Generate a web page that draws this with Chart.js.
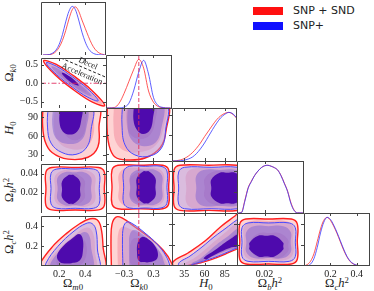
<!DOCTYPE html>
<html>
<head>
<meta charset="utf-8">
<script src="https://cdn.jsdelivr.net/npm/chart.js@4.4.1/dist/chart.umd.min.js"></script>
<style>
  html, body { margin: 0; padding: 0; background: #fff; }
  #wrap { position: relative; width: 374px; height: 291px; overflow: hidden; }
  #wrap canvas { position: absolute; }
  .ttl { position: absolute; font-family: "Liberation Serif", "DejaVu Serif", serif; font-size: 12.5px; color: #222; white-space: nowrap; line-height: 1; transform: translate(-50%, -50%); }
  .ttl.v { transform: translate(-50%, -50%) rotate(-90deg); }
  .ttl sub, .ttl sup { font-size: 70%; position: relative; vertical-align: baseline; line-height: 0; }
  .ttl sub { top: 0.3em; }
  .ttl sup { top: -0.45em; }
  .lg { position: absolute; font-family: "DejaVu Sans", sans-serif; font-size: 11px; color: #222; line-height: 1; }
  .sw { position: absolute; width: 30px; height: 8px; }
</style>
</head>
<body>
<div id="wrap">
  <div class="sw" style="left:253px;top:7px;background:#ff1010"></div>
  <div class="lg" style="left:293px;top:5px">SNP + SND</div>
  <div class="sw" style="left:253px;top:22px;background:#1010ff"></div>
  <div class="lg" style="left:293px;top:20px">SNP+</div>

  <div class="ttl" style="left:73px;top:283px">Ω<sub><i>m</i>0</sub></div>
  <div class="ttl" style="left:139px;top:283px">Ω<sub><i>k</i>0</sub></div>
  <div class="ttl" style="left:206px;top:283px"><i>H</i><sub>0</sub></div>
  <div class="ttl" style="left:270px;top:283px">Ω<sub><i>b</i></sub><i>h</i><sup>2</sup></div>
  <div class="ttl" style="left:337px;top:283px">Ω<sub><i>c</i></sub><i>h</i><sup>2</sup></div>

  <div class="ttl v" style="left:9px;top:73px">Ω<sub><i>k</i>0</sub></div>
  <div class="ttl v" style="left:9px;top:128px"><i>H</i><sub>0</sub></div>
  <div class="ttl v" style="left:9px;top:190px">Ω<sub><i>b</i></sub><i>h</i><sup>2</sup></div>
  <div class="ttl v" style="left:9px;top:242px">Ω<sub><i>c</i></sub><i>h</i><sup>2</sup></div>
</div>
<script>
// ---- axis ranges and ticks ----
const om_range = [0.06, 0.56];
const ok_range = [-0.67, 0.68];
const h0_range = [20, 100];
const ob_range = [-0.001, 0.05];
const oc_range = [0, 0.5];
const pdf_range = [0, 1.09];

const om_xticks = [0.2, 0.4], om_xlabels = ['0.2', '0.4'];
const ok_xticks = [-0.3, 0.3], ok_xlabels = ['\u22120.3', '0.3'];
const ok_yticks = [-0.5, 0, 0.5], ok_ylabels = ['\u22120.5', '0.0', '0.5'];
const h0_xticks = [35, 60, 85], h0_xlabels = ['35', '60', '85'];
const h0_yticks = [30, 60, 90], h0_ylabels = ['30', '60', '90'];
const ob_xticks = [0.02], ob_xlabels = ['0.02'];
const ob_yticks = [0.02, 0.04], ob_ylabels = ['0.02', '0.04'];
const oc_xticks = [0.2, 0.4], oc_xlabels = ['0.2', '0.4'];
const oc_yticks = [0.2, 0.4], oc_ylabels = ['0.2', '0.4'];

// ---- 1D marginals (normalised) ----
const om_grid = [0.075, 0.1, 0.125, 0.15, 0.175, 0.2, 0.225, 0.25, 0.275, 0.3, 0.325, 0.35, 0.375, 0.4, 0.425, 0.45, 0.475, 0.5, 0.525, 0.55];
const om_snd = [0, 0.002, 0.008, 0.025, 0.07, 0.16, 0.3, 0.5, 0.74, 0.93, 0.99, 0.9, 0.72, 0.55, 0.38, 0.23, 0.12, 0.055, 0.02, 0.006];
const om_snp = [0, 0.003, 0.01, 0.04, 0.1, 0.22, 0.42, 0.68, 0.9, 1.0, 0.93, 0.72, 0.47, 0.27, 0.13, 0.055, 0.02, 0.006, 0.002, 0];

const ok_grid = [-0.65, -0.6, -0.5, -0.4, -0.3, -0.2, -0.1, 0, 0.1, 0.2, 0.3, 0.4, 0.5, 0.6, 0.65];
const ok_snd = [0, 0.002, 0.01, 0.1, 0.3, 0.55, 0.8, 1.0, 0.82, 0.35, 0.12, 0.03, 0.005, 0, 0];
const ok_snp = [0, 0, 0, 0.003, 0.02, 0.1, 0.37, 0.74, 0.98, 0.7, 0.22, 0.05, 0.01, 0, 0];

const h0_grid = [20, 25, 30, 35, 40, 45, 50, 55, 60, 65, 70, 75, 80, 85, 90, 95, 100];
const h0_snd = [0, 0.005, 0.02, 0.05, 0.1, 0.17, 0.26, 0.37, 0.5, 0.62, 0.74, 0.85, 0.93, 0.98, 1.0, 0.96, 0.87];
const h0_snp = [0, 0.001, 0.005, 0.015, 0.04, 0.08, 0.15, 0.25, 0.37, 0.51, 0.65, 0.78, 0.89, 0.96, 1.0, 0.97, 0.88];

const ob_grid = [0, 0.0025, 0.005, 0.0075, 0.01, 0.0125, 0.015, 0.0175, 0.02, 0.0225, 0.025, 0.0275, 0.03, 0.0325, 0.035, 0.0375, 0.04, 0.0425, 0.045, 0.05];
const ob_snd = [0, 0.015, 0.27, 0.53, 0.67, 0.79, 0.88, 0.95, 0.99, 1.0, 0.98, 0.95, 0.9, 0.79, 0.63, 0.46, 0.22, 0.06, 0.005, 0];
const ob_snp = [0, 0.01, 0.25, 0.52, 0.66, 0.79, 0.88, 0.95, 0.99, 1.0, 0.98, 0.95, 0.9, 0.78, 0.62, 0.45, 0.2, 0.05, 0.003, 0];

const oc_grid = [0, 0.025, 0.05, 0.075, 0.1, 0.125, 0.15, 0.175, 0.2, 0.225, 0.25, 0.275, 0.3, 0.325, 0.35, 0.375, 0.4, 0.425, 0.45, 0.5];
const oc_snd = [0, 0.03, 0.1, 0.25, 0.5, 0.76, 0.94, 1.0, 0.94, 0.82, 0.67, 0.5, 0.33, 0.19, 0.09, 0.04, 0.015, 0.006, 0.002, 0];
const oc_snp = [0, 0.005, 0.04, 0.15, 0.38, 0.68, 0.9, 1.0, 0.96, 0.84, 0.69, 0.52, 0.35, 0.2, 0.1, 0.045, 0.017, 0.007, 0.002, 0];

// ---- 2D contours [outer, middle, inner], outlines in data units ----
// Omega_k0 vs Omega_m0
const okom_snd = [
  [[0.315, 0.19], [0.456, -0.208], [0.55, -0.60], [0.456, -0.512], [0.315, -0.19], [0.174, 0.208], [0.08, 0.60], [0.174, 0.512]],
  [[0.315, 0.15], [0.444, -0.21], [0.53, -0.549], [0.444, -0.45], [0.315, -0.15], [0.186, 0.209], [0.10, 0.549], [0.186, 0.449]],
  [[0.30, 0.118], [0.366, -0.066], [0.41, -0.243], [0.366, -0.194], [0.30, -0.042], [0.234, 0.143], [0.19, 0.319], [0.234, 0.271]]
];
const okom_snp = [
  [[0.30, 0.178], [0.42, -0.156], [0.50, -0.473], [0.42, -0.38], [0.30, -0.102], [0.18, 0.232], [0.10, 0.549], [0.18, 0.456]],
  [[0.295, 0.156], [0.388, -0.103], [0.45, -0.345], [0.388, -0.271], [0.295, -0.054], [0.202, 0.204], [0.14, 0.447], [0.202, 0.372]],
  [[0.285, 0.171], [0.324, 0.059], [0.35, -0.06], [0.324, -0.045], [0.285, 0.041], [0.246, 0.154], [0.22, 0.276], [0.246, 0.258]]
];
const decel_line = [[0.213, 0.68], [0.56, 0.16]];
const decel_text = [0.421, 0.527];
const accel_text = [0.375, 0.247];

// H0 vs Omega_m0
const h0om_snd = [
  [[0.075, 106], [0.072, 78.9], [0.091, 51.7], [0.145, 33.6], [0.268, 23], [0.421, 26], [0.498, 42.7], [0.506, 74.3], [0.498, 106]],
  [[0.168, 106], [0.16, 74.3], [0.191, 51.7], [0.283, 39.6], [0.398, 41.2], [0.46, 59.3], [0.468, 89.4], [0.468, 106]],
  [[0.221, 106], [0.214, 78.9], [0.252, 60.8], [0.321, 53.2], [0.383, 60.8], [0.406, 81.9], [0.406, 106]]
];
const h0om_snp = [
  [[0.114, 106], [0.11, 74.3], [0.137, 48.7], [0.221, 33.6], [0.329, 30.6], [0.414, 42.7], [0.445, 69.8], [0.445, 106]],
  [[0.152, 106], [0.148, 74.3], [0.183, 54.7], [0.268, 47.2], [0.36, 51.7], [0.406, 69.8], [0.406, 106]],
  [[0.206, 106], [0.202, 81.9], [0.229, 66.8], [0.283, 62.3], [0.337, 66.8], [0.368, 83.4], [0.368, 106]]
];

// H0 vs Omega_k0
const h0ok_snd = [
  [[-0.639, 106], [-0.65, 74.3], [-0.609, 44.2], [-0.486, 26], [-0.22, 21.5], [0.128, 24.5], [0.434, 39.6], [0.56, 66.8], [0.56, 106]],
  [[-0.506, 106], [-0.517, 74.3], [-0.466, 48.7], [-0.281, 35.1], [0.025, 33.6], [0.332, 42.7], [0.496, 66.8], [0.516, 106]],
  [[-0.241, 106], [-0.251, 78.9], [-0.179, 60.8], [0.025, 53.2], [0.23, 59.3], [0.332, 78.9], [0.332, 106]]
];
const h0ok_snp = [
  [[-0.333, 106], [-0.343, 74.3], [-0.281, 44.2], [-0.077, 29.1], [0.23, 27.6], [0.465, 39.6], [0.55, 66.8], [0.55, 106]],
  [[-0.22, 106], [-0.23, 74.3], [-0.159, 53.2], [0.066, 42.7], [0.332, 47.2], [0.455, 66.8], [0.475, 106]],
  [[-0.097, 106], [-0.108, 81.9], [-0.036, 66.8], [0.087, 60.8], [0.23, 66.8], [0.291, 84.9], [0.291, 106]]
];

// Omega_b h^2 vs others: extents [xmin, xmax, ymin, ymax]
const obom_snd = [[0.098, 0.547, 0.0022, 0.0464], [0.168, 0.475, 0.0059, 0.0431], [0.225, 0.395, 0.0075, 0.0395]];
const obom_snp = [[0.137, 0.508, 0.0039, 0.0448], [0.188, 0.445, 0.0071, 0.0415], [0.222, 0.36, 0.0085, 0.0385]];
const obok_snd = [[-0.547, 0.612, 0.0032, 0.0458], [-0.404, 0.51, 0.0059, 0.0431], [-0.179, 0.271, 0.0085, 0.0395]];
const obok_snp = [[-0.308, 0.577, 0.0039, 0.0448], [-0.173, 0.475, 0.0071, 0.0415], [-0.04, 0.34, 0.0085, 0.0399]];
const obh0_snd = [[22.5, 108, 0.0016, 0.0458], [37.6, 108, 0.0034, 0.0426], [60.2, 108, 0.0075, 0.0395]];
const obh0_snp = [[28.2, 108, 0.0032, 0.0438], [49.9, 108, 0.0059, 0.0412], [68.4, 108, 0.0085, 0.0385]];

// Omega_c h^2 vs Omega_m0
const ocom_snd = [
  [[0.05, -0.04], [0.055, 0.03], [0.145, 0.189], [0.252, 0.321], [0.36, 0.425], [0.437, 0.472], [0.491, 0.462], [0.521, 0.387], [0.537, 0.198], [0.537, -0.04]],
  [[0.114, -0.04], [0.118, 0.038], [0.206, 0.179], [0.314, 0.302], [0.391, 0.377], [0.437, 0.377], [0.468, 0.292], [0.475, 0.151], [0.475, -0.04]],
  [[0.27, -0.01], [0.191, 0.0], [0.183, 0.075], [0.237, 0.17], [0.314, 0.255], [0.368, 0.283], [0.406, 0.226], [0.406, 0.094], [0.36, 0.009]]
];
const ocom_snp = [
  [[0.098, -0.04], [0.098, 0.028], [0.191, 0.198], [0.314, 0.349], [0.406, 0.425], [0.452, 0.425], [0.483, 0.359], [0.494, 0.17], [0.498, -0.04]],
  [[0.129, -0.04], [0.137, 0.038], [0.221, 0.17], [0.329, 0.283], [0.391, 0.34], [0.429, 0.311], [0.445, 0.198], [0.448, -0.04]],
  [[0.283, 0.024], [0.206, 0.038], [0.183, 0.104], [0.229, 0.198], [0.306, 0.283], [0.352, 0.321], [0.379, 0.283], [0.383, 0.16], [0.36, 0.057]]
];

// Omega_c h^2 vs Omega_k0
const ocok_snd = [
  [[-0.558, -0.04], [-0.568, 0.245], [-0.547, 0.396], [-0.466, 0.462], [-0.343, 0.453], [-0.077, 0.368], [0.23, 0.264], [0.496, 0.151], [0.66, 0.038], [0.68, -0.04]],
  [[-0.425, -0.04], [-0.435, 0.198], [-0.414, 0.321], [-0.343, 0.368], [-0.179, 0.349], [0.066, 0.283], [0.332, 0.179], [0.537, 0.066], [0.598, -0.04]],
  [[0.07, 0.005], [-0.159, 0.019], [-0.179, 0.132], [-0.159, 0.226], [-0.077, 0.264], [0.066, 0.245], [0.23, 0.179], [0.312, 0.094], [0.23, 0.019]]
];
const ocok_snp = [
  [[-0.322, -0.04], [-0.333, 0.245], [-0.312, 0.368], [-0.241, 0.415], [-0.118, 0.396], [0.128, 0.311], [0.373, 0.208], [0.557, 0.094], [0.639, 0.0], [0.639, -0.04]],
  [[-0.189, -0.04], [-0.2, 0.198], [-0.179, 0.302], [-0.097, 0.34], [0.066, 0.302], [0.271, 0.226], [0.434, 0.132], [0.516, 0.038], [0.537, -0.04]],
  [[0.169, 0.033], [0.005, 0.047], [-0.036, 0.132], [-0.016, 0.226], [0.066, 0.274], [0.189, 0.255], [0.332, 0.189], [0.393, 0.113], [0.352, 0.057]]
];

// Omega_c h^2 vs H0
const och0_snd = [
  [[24, -0.04], [21, 0.035], [39.7, 0.123], [60.6, 0.236], [80.3, 0.373], [97.5, 0.472], [106, 0.52], [106, 0.17], [100, 0.16], [85, 0.11], [70, 0.065], [55, 0.03], [40, 0.005]],
  [[40, -0.02], [34, 0.01], [48.3, 0.08], [64.3, 0.18], [81.5, 0.29], [106, 0.42], [106, 0.185], [90, 0.14], [72, 0.085], [56, 0.045], [44, 0.015]],
  [[55, 0.02], [52, 0.04], [63, 0.09], [77, 0.17], [106, 0.33], [106, 0.2], [90, 0.16], [72, 0.1]]
];
const och0_snp = [
  [[36, -0.04], [28, 0.02], [42.2, 0.094], [56.9, 0.179], [71.7, 0.274], [86.5, 0.358], [98.8, 0.429], [106, 0.46], [106, 0.18], [100, 0.17], [85, 0.12], [70, 0.075], [55, 0.038], [44, 0.01]],
  [[48, -0.01], [44, 0.02], [55, 0.07], [73, 0.19], [89, 0.28], [106, 0.37], [106, 0.19], [90, 0.15], [74, 0.1], [58, 0.05]],
  [[62, 0.06], [59, 0.075], [73, 0.15], [89, 0.24], [106, 0.31], [106, 0.2], [91, 0.17], [75, 0.115]]
];

// Omega_c h^2 vs Omega_b h^2: extents
const ocob_snd = [[0.0011, 0.0449, 0.019, 0.443], [0.0043, 0.0416, 0.057, 0.425], [0.0095, 0.038, 0.075, 0.311]];
const ocob_snp = [[0.0028, 0.0434, 0.044, 0.406], [0.0061, 0.0399, 0.075, 0.375], [0.0085, 0.0342, 0.09, 0.285]];

// ---- layout / style ----
const colX = [41, 106, 172, 237, 304, 370];
const rowY = [2, 55, 108, 161, 213, 266];
const ML = 40, MT = 6, MR = 6, MB = 30;
const SERIF = "'Liberation Serif', 'DejaVu Serif', serif";
const RED = 'rgba(255,45,45,0.8)', BLUE = 'rgba(55,55,255,0.8)';
const sndFill = ['rgba(250,100,100,0.28)', 'rgba(235,90,120,0.30)', 'rgba(200,80,130,0.40)'];
const snpFill = ['rgba(175,160,235,0.45)', 'rgba(120,90,210,0.45)', 'rgba(70,0,170,0.92)'];
const boxRound = [0.09, 0.11, 0.13];
const wrap = document.getElementById('wrap');

const params = [
  { range: om_range, xt: om_xticks, xl: om_xlabels, yt: null, yl: null },
  { range: ok_range, xt: ok_xticks, xl: ok_xlabels, yt: ok_yticks, yl: ok_ylabels },
  { range: h0_range, xt: h0_xticks, xl: h0_xlabels, yt: h0_yticks, yl: h0_ylabels },
  { range: ob_range, xt: ob_xticks, xl: ob_xlabels, yt: ob_yticks, yl: ob_ylabels },
  { range: oc_range, xt: oc_xticks, xl: oc_xlabels, yt: oc_yticks, yl: oc_ylabels }
];

function scaleOpts(pos, range, ticks, labels, showLabels) {
  const o = {
    type: 'linear', position: pos, min: range[0], max: range[1], bounds: 'data',
    grid: { display: false, drawTicks: false }, border: { display: false },
    ticks: {
      display: showLabels, autoSkip: false, maxRotation: 0, minRotation: 0,
      padding: pos === 'left' ? 3 : 2, color: '#222',
      font: { family: SERIF, size: 10 },
      callback: (v, i) => labels ? labels[i] : ''
    },
    afterFit: s => { if (pos === 'left') s.width = ML; else s.height = MB; }
  };
  if (ticks) o.afterBuildTicks = s => { s.ticks = ticks.map(v => ({ value: v })); };
  return o;
}

// panel frame and small inward ticks
function framePlugin(r, c, yTicks) {
  return {
    id: 'frame',
    afterDatasetsDraw(chart) {
      const { ctx, chartArea: a, scales } = chart;
      ctx.save();
      ctx.strokeStyle = '#444';
      ctx.lineWidth = 1;
      ctx.beginPath();
      for (const t of scales.x.ticks) {
        const px = Math.round(scales.x.getPixelForValue(t.value)) + 0.5;
        ctx.moveTo(px, a.bottom); ctx.lineTo(px, a.bottom - 3);
        ctx.moveTo(px, a.top); ctx.lineTo(px, a.top + 3);
      }
      if (yTicks) {
        for (const t of scales.y.ticks) {
          const py = Math.round(scales.y.getPixelForValue(t.value)) + 0.5;
          ctx.moveTo(a.left, py); ctx.lineTo(a.left + 3, py);
          ctx.moveTo(a.right, py); ctx.lineTo(a.right - 3, py);
        }
      }
      ctx.moveTo(a.left + 0.5, a.bottom); ctx.lineTo(a.left + 0.5, a.top + 0.5); ctx.lineTo(a.right, a.top + 0.5);
      if (r === c) { ctx.moveTo(a.right - 0.5, a.top); ctx.lineTo(a.right - 0.5, a.bottom); }
      if (r === 4) { ctx.moveTo(a.left, a.bottom - 0.5); ctx.lineTo(a.right, a.bottom - 0.5); }
      ctx.stroke();
      ctx.restore();
    }
  };
}

const decelPlugin = {
  id: 'decel',
  afterDatasetsDraw(chart) {
    const { ctx, scales: { x, y } } = chart;
    const p0 = decel_line[0], p1 = decel_line[1];
    const ang = Math.atan2(y.getPixelForValue(p1[1]) - y.getPixelForValue(p0[1]),
                           x.getPixelForValue(p1[0]) - x.getPixelForValue(p0[0]));
    ctx.save();
    ctx.font = '8.5px ' + SERIF;
    ctx.fillStyle = '#222';
    ctx.textAlign = 'center';
    ctx.textBaseline = 'middle';
    [['Decel', decel_text], ['Acceleration', accel_text]].forEach(([s, p]) => {
      ctx.save();
      ctx.translate(x.getPixelForValue(p[0]), y.getPixelForValue(p[1]));
      ctx.rotate(ang);
      ctx.fillText(s, 0, 0);
      ctx.restore();
    });
    ctx.restore();
  }
};

function panel(r, c, datasets, extra) {
  const diag = r === c;
  const xp = params[c];
  const yp = params[r];
  const w = colX[c + 1] - colX[c], h = rowY[r + 1] - rowY[r];
  const cv = document.createElement('canvas');
  cv.width = ML + w + MR;
  cv.height = MT + h + MB;
  cv.style.left = (colX[c] - ML) + 'px';
  cv.style.top = (rowY[r] - MT) + 'px';
  cv.style.width = cv.width + 'px';
  cv.style.height = cv.height + 'px';
  wrap.appendChild(cv);
  datasets.forEach((d, i) => { d.order = datasets.length - i; });
  new Chart(cv, {
    type: 'line',
    data: { datasets },
    options: {
      responsive: false, animation: false, devicePixelRatio: 1, events: [],
      layout: { padding: { top: MT, right: MR, left: 0, bottom: 0 }, autoPadding: false },
      plugins: { legend: { display: false }, tooltip: { enabled: false } },
      elements: { point: { radius: 0, hoverRadius: 0 }, line: { capBezierPoints: false } },
      scales: {
        x: scaleOpts('bottom', xp.range, xp.xt, xp.xl, r === 4),
        y: diag ? scaleOpts('left', pdf_range, null, null, false)
                : scaleOpts('left', yp.range, yp.yt, yp.yl, c === 0)
      }
    },
    plugins: [framePlugin(r, c, !diag)].concat(extra || [])
  });
}

function curve(grid, vals, color) {
  return { data: grid.map((x, i) => [x, vals[i]]), borderColor: color, borderWidth: 1,
           fill: false, cubicInterpolationMode: 'monotone', pointRadius: 0 };
}
function shape(path, fillColor, lineColor, lw, tension) {
  return { data: path.concat([path[0]]), backgroundColor: fillColor,
           borderColor: lineColor || 'rgba(0,0,0,0)', borderWidth: lineColor ? lw : 1,
           fill: 'shape', tension: tension || 0.4, pointRadius: 0 };
}
function contours(snd, snp, tension) {
  const out = [];
  snd.forEach((p, i) => out.push(shape(p, sndFill[i], i === 0 ? '#ff2020' : null, 1.4, tension)));
  snp.forEach((p, i) => out.push(shape(p, snpFill[i], i === 0 ? '#4848ff' : null, 1, tension)));
  return out;
}
function roundBox(b, xr, yr, f) {
  const [x0, x1, y0, y1] = b;
  const cx = Math.min(f * (xr[1] - xr[0]), 0.36 * (x1 - x0));
  const cy = Math.min(f * (yr[1] - yr[0]), 0.36 * (y1 - y0));
  const mx = (x0 + x1) / 2, my = (y0 + y1) / 2;
  return [[mx, y1], [x1 - cx, y1], [x1, y1 - cy], [x1, my], [x1, y0 + cy], [x1 - cx, y0], [mx, y0],
          [x0 + cx, y0], [x0, y0 + cy], [x0, my], [x0, y1 - cy], [x0 + cx, y1]];
}
function boxes(list, xr, yr) {
  return list.map((b, i) => roundBox(b, xr, yr, boxRound[i]));
}
function refLine(pts, color, dash, w) {
  return { data: pts, borderColor: color, borderDash: dash, borderWidth: w, fill: false, tension: 0, pointRadius: 0 };
}
const vline = yr => refLine([[0, yr[0]], [0, yr[1]]], 'rgba(225,50,95,0.75)', [4, 2], 1.2);

// row 1
panel(0, 0, [curve(om_grid, om_snd, RED), curve(om_grid, om_snp, BLUE)]);
// row 2
panel(1, 0, contours(okom_snd, okom_snp).concat([
  refLine([[om_range[0], 0], [om_range[1], 0]], 'rgba(225,40,90,0.85)', [5, 2, 1.5, 2], 1.1),
  refLine(decel_line, '#222', [3, 2], 1)
]), [decelPlugin]);
panel(1, 1, [curve(ok_grid, ok_snd, RED), curve(ok_grid, ok_snp, BLUE), vline(pdf_range)]);
// row 3
panel(2, 0, contours(h0om_snd, h0om_snp));
panel(2, 1, contours(h0ok_snd, h0ok_snp).concat([vline(h0_range)]));
panel(2, 2, [curve(h0_grid, h0_snd, RED), curve(h0_grid, h0_snp, BLUE)]);
// row 4
panel(3, 0, contours(boxes(obom_snd, om_range, ob_range), boxes(obom_snp, om_range, ob_range), 0.4));
panel(3, 1, contours(boxes(obok_snd, ok_range, ob_range), boxes(obok_snp, ok_range, ob_range), 0.4).concat([vline(ob_range)]));
panel(3, 2, contours(boxes(obh0_snd, h0_range, ob_range), boxes(obh0_snp, h0_range, ob_range), 0.4));
panel(3, 3, [curve(ob_grid, ob_snd, RED), curve(ob_grid, ob_snp, BLUE)]);
// row 5
panel(4, 0, contours(ocom_snd, ocom_snp));
panel(4, 1, contours(ocok_snd, ocok_snp).concat([vline(oc_range)]));
panel(4, 2, contours(och0_snd, och0_snp));
panel(4, 3, contours(boxes(ocob_snd, ob_range, oc_range), boxes(ocob_snp, ob_range, oc_range), 0.4));
panel(4, 4, [curve(oc_grid, oc_snd, RED), curve(oc_grid, oc_snp, BLUE)]);
</script>
</body>
</html>
